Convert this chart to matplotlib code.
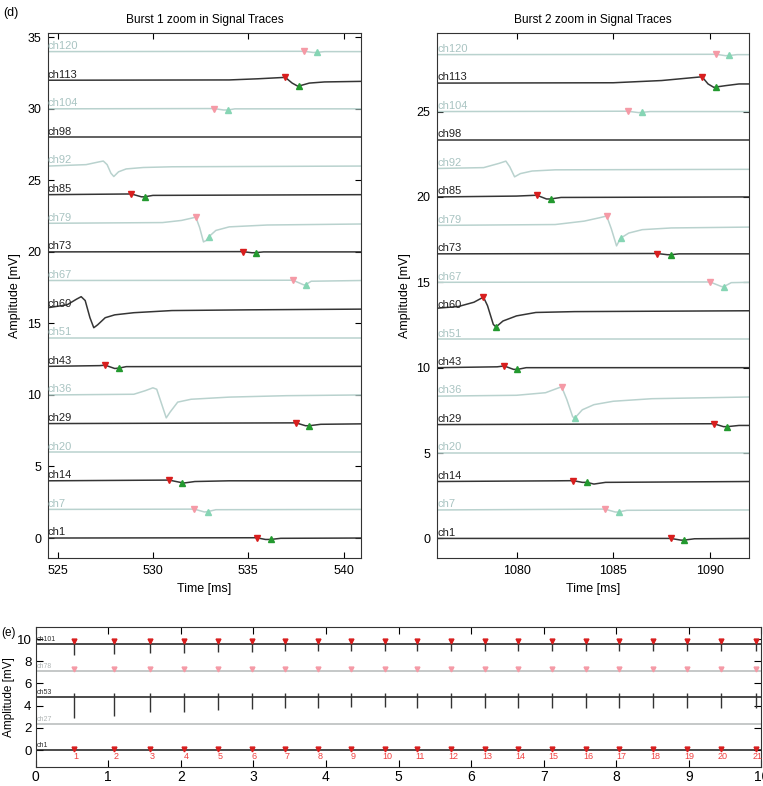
import numpy as np
import matplotlib
matplotlib.use("Agg")
from matplotlib import pyplot as plt
import matplotlib.transforms as mtransforms

plt.rcParams['font.family'] = ['Liberation Sans', 'DejaVu Sans']

# channel order, bottom to top
channels = ["ch1", "ch7", "ch14", "ch20", "ch29", "ch36", "ch43", "ch51", "ch60",
            "ch67", "ch73", "ch79", "ch85", "ch92", "ch98", "ch104", "ch113", "ch120"]

# ---- burst 1: keypoints (time ms, deviation mV) per channel
b1_trace = {
    "ch1":   [(524.5, 0), (535.44, 0.02), (535.9, -0.1), (536.17, -0.1), (536.7, -0.02), (540.9, 0)],
    "ch7":   [(524.5, 0), (532.18, 0.02), (532.7, -0.18), (532.88, -0.15), (533.3, -0.02), (540.9, 0)],
    "ch14":  [(524.5, 0), (529.5, 0.04), (530.85, 0.05), (531.4, -0.1), (531.65, -0.15), (532.2, -0.05), (534, 0), (540.9, 0)],
    "ch20":  [(524.5, 0), (540.9, 0)],
    "ch29":  [(524.5, 0), (537.5, 0.05), (538.0, -0.15), (538.2, -0.15), (538.8, -0.05), (540.9, -0.02)],
    "ch36":  [(524.5, 0), (529.0, 0.05), (529.6, 0.3), (530.0, 0.5), (530.2, 0.4), (530.5, -0.8), (530.7, -1.6),
              (530.9, -1.2), (531.3, -0.5), (532.0, -0.3), (534.0, -0.15), (537.0, -0.05), (540.9, 0)],
    "ch43":  [(524.5, 0), (527.2, 0.05), (527.5, 0.08), (528.0, -0.15), (528.23, -0.12), (528.6, -0.02), (540.9, 0)],
    "ch51":  [(524.5, 0), (540.9, 0)],
    "ch60":  [(524.5, 0.1), (525.5, 0.3), (526.0, 0.7), (526.24, 0.87), (526.45, 0.6), (526.7, -0.6), (526.9, -1.3),
              (527.1, -1.1), (527.5, -0.6), (528.0, -0.4), (529.0, -0.25), (531.0, -0.1), (535.0, -0.05), (540.9, 0)],
    "ch67":  [(524.5, 0), (537.34, 0.02), (537.9, -0.3), (538.0, -0.3), (538.3, -0.05), (540.9, 0)],
    "ch73":  [(524.5, 0), (534.7, 0.02), (535.2, -0.06), (535.4, -0.05), (535.8, 0), (540.9, 0)],
    "ch79":  [(524.5, 0), (530.5, 0.05), (531.5, 0.2), (532.0, 0.35), (532.25, 0.43), (532.45, -0.3), (532.65, -1.3),
              (532.8, -1.2), (532.94, -0.93), (533.3, -0.5), (534.0, -0.25), (536.0, -0.12), (540.9, -0.05)],
    "ch85":  [(524.5, 0), (528.0, 0.04), (528.87, 0.05), (529.4, -0.15), (529.56, -0.15), (530.0, -0.05), (540.9, 0)],
    "ch92":  [(524.5, 0), (526.5, 0.1), (527.2, 0.3), (527.4, 0.35), (527.6, 0.1), (527.8, -0.5), (527.95, -0.73),
              (528.2, -0.4), (528.6, -0.2), (529.5, -0.1), (531.0, -0.05), (540.9, 0)],
    "ch98":  [(524.5, 0), (540.9, 0)],
    "ch104": [(524.5, 0), (533.2, 0.02), (533.7, -0.08), (533.94, -0.08), (534.3, 0), (540.9, 0)],
    "ch113": [(524.5, 0), (534.0, 0.02), (535.5, 0.1), (536.94, 0.2), (537.3, -0.2), (537.6, -0.42), (537.67, -0.4),
              (538.2, -0.2), (539.0, -0.12), (540.9, -0.08)],
    "ch120": [(524.5, 0), (537.94, 0.02), (538.4, -0.06), (538.6, -0.05), (539.0, 0), (540.9, 0)],
}
b1_down = {"ch1": (535.44, 0.02), "ch7": (532.18, 0.02), "ch14": (530.85, 0.05), "ch29": (537.5, 0.05),
           "ch43": (527.5, 0.08), "ch67": (537.34, 0.02), "ch73": (534.7, 0.02), "ch79": (532.25, 0.43),
           "ch85": (528.87, 0.05), "ch104": (533.2, 0.02), "ch113": (536.94, 0.2), "ch120": (537.94, 0.02)}
b1_up = {"ch1": (536.17, -0.1), "ch7": (532.88, -0.15), "ch14": (531.54, -0.12), "ch29": (538.2, -0.15),
         "ch43": (528.23, -0.12), "ch67": (538.0, -0.3), "ch73": (535.4, -0.05), "ch79": (532.94, -0.93),
         "ch85": (529.56, -0.15), "ch104": (533.94, -0.08), "ch113": (537.67, -0.4), "ch120": (538.6, -0.05)}

# ---- burst 2
b2_trace = {
    "ch1":   [(1075.9, 0), (1087.97, 0.0), (1088.5, -0.1), (1088.66, -0.1), (1089.2, -0.02), (1092.03, 0)],
    "ch7":   [(1075.9, 0), (1084.57, 0.05), (1085.1, -0.12), (1085.28, -0.12), (1085.7, -0.02), (1092.03, 0)],
    "ch14":  [(1075.9, 0), (1082.0, 0.04), (1082.93, 0.05), (1083.4, -0.05), (1083.64, -0.05), (1084.0, -0.15),
              (1084.6, -0.05), (1092.03, 0)],
    "ch20":  [(1075.9, 0), (1092.03, 0)],
    "ch29":  [(1075.9, 0), (1090.2, 0.05), (1090.7, -0.12), (1090.9, -0.12), (1091.5, -0.05), (1092.03, -0.05)],
    "ch36":  [(1075.9, 0), (1080.0, 0.05), (1081.5, 0.2), (1082.33, 0.55), (1082.6, -0.2), (1082.9, -1.2),
              (1083.0, -1.3), (1083.4, -0.8), (1084.0, -0.5), (1085.0, -0.3), (1087.0, -0.15), (1092.03, -0.05)],
    "ch43":  [(1075.9, 0), (1079.0, 0.05), (1079.36, 0.1), (1079.85, -0.1), (1080.05, -0.1), (1080.5, 0), (1092.03, 0)],
    "ch51":  [(1075.9, 0), (1092.03, 0)],
    "ch60":  [(1075.9, 0.15), (1077.0, 0.25), (1077.8, 0.5), (1078.29, 0.8), (1078.5, 0.3), (1078.8, -0.8),
              (1078.94, -0.95), (1079.3, -0.6), (1080.0, -0.3), (1081.0, -0.1), (1083.0, -0.05), (1092.03, 0)],
    "ch67":  [(1075.9, 0), (1090.0, 0.02), (1090.6, -0.25), (1090.72, -0.25), (1091.1, -0.02), (1092.03, 0)],
    "ch73":  [(1075.9, 0), (1087.27, 0.02), (1087.8, -0.05), (1088.0, -0.05), (1088.4, 0), (1092.03, 0)],
    "ch79":  [(1075.9, 0), (1082.0, 0.05), (1083.5, 0.25), (1084.3, 0.45), (1084.66, 0.55), (1084.9, -0.2),
              (1085.17, -1.2), (1085.38, -0.75), (1085.8, -0.45), (1086.5, -0.25), (1088.0, -0.15), (1092.03, -0.1)],
    "ch85":  [(1075.9, 0), (1080.0, 0.05), (1081.05, 0.1), (1081.55, -0.12), (1081.76, -0.12), (1082.3, -0.03), (1092.03, 0)],
    "ch92":  [(1075.9, 0), (1078.3, 0.05), (1079.1, 0.3), (1079.45, 0.43), (1079.65, 0.1), (1079.9, -0.49),
              (1080.2, -0.3), (1080.8, -0.15), (1082.0, -0.08), (1092.03, -0.05)],
    "ch98":  [(1075.9, 0), (1092.03, 0)],
    "ch104": [(1075.9, 0), (1085.74, 0.02), (1086.3, -0.06), (1086.47, -0.05), (1086.9, 0), (1092.03, 0)],
    "ch113": [(1075.9, 0), (1085.0, 0.02), (1087.5, 0.15), (1089.59, 0.37), (1089.9, -0.05), (1090.2, -0.25),
              (1090.3, -0.23), (1090.8, -0.15), (1091.5, -0.05), (1092.03, -0.05)],
    "ch120": [(1075.9, 0), (1090.31, 0.02), (1090.8, -0.06), (1091.0, -0.05), (1091.4, 0), (1092.03, 0)],
}
b2_down = {"ch1": (1087.97, 0.0), "ch7": (1084.57, 0.05), "ch14": (1082.93, 0.05), "ch29": (1090.2, 0.05),
           "ch36": (1082.33, 0.55), "ch43": (1079.36, 0.1), "ch60": (1078.29, 0.8), "ch67": (1090.0, 0.02),
           "ch73": (1087.27, 0.02), "ch79": (1084.66, 0.55), "ch85": (1081.05, 0.1), "ch104": (1085.74, 0.02),
           "ch113": (1089.59, 0.37), "ch120": (1090.31, 0.02)}
b2_up = {"ch1": (1088.66, -0.1), "ch7": (1085.28, -0.12), "ch14": (1083.64, -0.05), "ch29": (1090.9, -0.12),
         "ch36": (1083.0, -1.3), "ch43": (1080.05, -0.1), "ch60": (1078.94, -0.95), "ch67": (1090.72, -0.25),
         "ch73": (1088.0, -0.05), "ch79": (1085.38, -0.75), "ch85": (1081.76, -0.12), "ch104": (1086.47, -0.05),
         "ch113": (1090.3, -0.23), "ch120": (1091.0, -0.05)}

# ---- panel (e): long recording
long_channels = ["ch1", "ch27", "ch53", "ch78", "ch101"]
long_offsets = [0.0, 2.38, 4.76, 7.14, 9.52]
burst_times = [0.527, 1.073, 1.577, 2.044, 2.512, 2.98, 3.43, 3.89, 4.35, 4.81, 5.26,
               5.72, 6.19, 6.65, 7.11, 7.58, 8.04, 8.51, 8.98, 9.44, 9.92]
ch101_spike_low = [8.58, 8.64, 8.73, 8.73, 8.79, 8.79, 8.94, 8.88, 8.94, 8.88, 8.94,
                   8.94, 8.94, 8.94, 8.94, 8.94, 8.94, 8.94, 8.94, 8.94, 8.94]
ch101_spike_high = 9.85
ch53_spike_low = [2.86, 3.07, 3.40, 3.46, 3.60, 3.66, 3.75, 3.75, 3.84, 3.84, 3.75,
                  3.75, 3.75, 3.75, 3.75, 3.75, 3.75, 3.75, 3.75, 3.75, 3.75]
ch53_spike_high = 5.15
burst_labels = [str(i) for i in range(1, 22)]

dark_col = "#353535"
light_col = "#b9d2ce"
red = "#d81e1e"
green = "#23992f"
pink = "#f59aa6"
lgreen = "#86d5b4"


def draw_burst(ax, traces, down, up, spacing, xlim, ylim, xticks, yticks, title):
    trans = mtransforms.blended_transform_factory(ax.transAxes, ax.transData)
    for i, ch in enumerate(channels):
        off = i * spacing
        dark = (i % 2 == 0)
        col = dark_col if dark else light_col
        t = [p[0] for p in traces[ch]]
        v = [p[1] + off for p in traces[ch]]
        ax.plot(t, v, color=col, lw=1.1, zorder=2)
        ax.text(0.0, off + 0.04, ch, transform=trans, color="#222222" if dark else "#a9c4c2",
                fontsize=8, ha="left", va="bottom", zorder=3)
        if ch in down:
            ax.plot(down[ch][0], down[ch][1] + off, marker="v", ms=5, ls="none",
                    color=red if dark else pink, zorder=4)
        if ch in up:
            ax.plot(up[ch][0], up[ch][1] + off, marker="^", ms=5, ls="none",
                    color=green if dark else lgreen, zorder=4)
    ax.set_xlim(*xlim)
    ax.set_ylim(*ylim)
    ax.set_xticks(xticks)
    ax.set_yticks(yticks)
    ax.tick_params(direction="in", top=True, right=True, length=4, labelsize=9, pad=5)
    ax.set_xlabel("Time [ms]", fontsize=9)
    ax.set_ylabel("Amplitude [mV]", fontsize=9)
    ax.set_title(title, fontsize=8.6, pad=7)
    for s in ax.spines.values():
        s.set_color("#333333")


fig = plt.figure(figsize=(7.63, 7.86), dpi=100)

ax1 = fig.add_axes([0.0629, 0.290, 0.410, 0.668])
draw_burst(ax1, b1_trace, b1_down, b1_up, 2.0, (524.5, 540.9), (-1.4, 35.3),
           [525, 530, 535, 540], [0, 5, 10, 15, 20, 25, 30, 35], "Burst 1 zoom in Signal Traces")

ax2 = fig.add_axes([0.573, 0.290, 0.409, 0.668])
draw_burst(ax2, b2_trace, b2_down, b2_up, 5.0 / 3.0, (1075.9, 1092.03), (-1.15, 29.6),
           [1080, 1085, 1090], [0, 5, 10, 15, 20, 25], "Burst 2 zoom in Signal Traces")

# panel (e)
ax3 = fig.add_axes([0.0468, 0.0245, 0.951, 0.178])
for i, (ch, off) in enumerate(zip(long_channels, long_offsets)):
    dark = (i % 2 == 0)
    ax3.axhline(off, color="#1a1a1a" if dark else "#b5b9b9", lw=1.1, zorder=2)
    ax3.text(0.002, off + 0.1, ch, transform=mtransforms.blended_transform_factory(ax3.transAxes, ax3.transData),
             fontsize=5, color="#333333" if dark else "#b0b5b5", ha="left", va="bottom")
ax3.vlines(burst_times, ch101_spike_low, ch101_spike_high, color="#333333", lw=1.0, zorder=3)
ax3.vlines(burst_times, ch53_spike_low, ch53_spike_high, color="#333333", lw=1.0, zorder=3)
ax3.plot(burst_times, [long_offsets[4] + 0.3] * len(burst_times), "v", color=red, ms=3.5, ls="none", zorder=4)
ax3.plot(burst_times, [long_offsets[3] + 0.2] * len(burst_times), "v", color=pink, ms=3.5, ls="none", zorder=4)
ax3.plot(burst_times, [long_offsets[0] + 0.12] * len(burst_times), "v", color=red, ms=3.5, ls="none", zorder=4)
for t, lab in zip(burst_times, burst_labels):
    ax3.text(t + 0.03, -0.6, lab, color="#f04040", fontsize=6.5, ha="center", va="center")
ax3.set_xlim(0, 10)
ax3.set_ylim(-1.5, 11.1)
ax3.set_xticks(range(0, 11))
ax3.set_yticks([0, 2, 4, 6, 8, 10])
ax3.tick_params(axis="x", direction="in", top=True, length=5, labelsize=10, pad=2)
ax3.tick_params(axis="y", direction="in", right=True, length=5, labelsize=9.5, pad=3)
ax3.set_ylabel("Amplitude [mV]", fontsize=8.5, labelpad=1)
for s in ax3.spines.values():
    s.set_color("#333333")

fig.text(0.004, 0.983, "(d)", fontsize=9, ha="left", va="center")
fig.text(0.002, 0.195, "(e)", fontsize=8.5, ha="left", va="center")

fig.savefig("out.png", dpi=100)
